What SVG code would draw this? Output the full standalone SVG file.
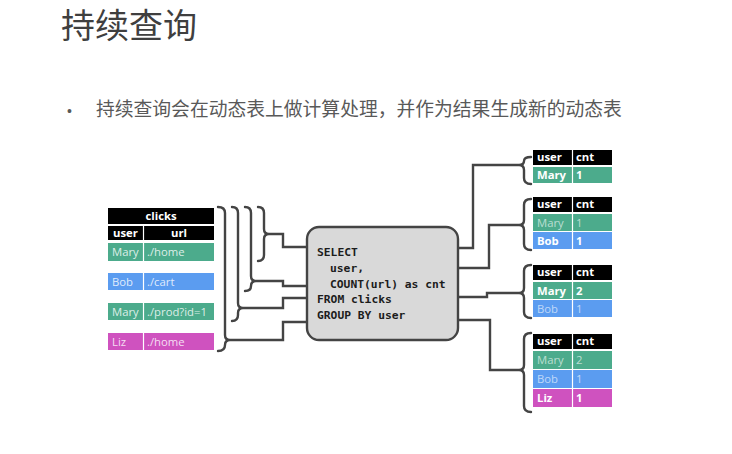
<svg xmlns="http://www.w3.org/2000/svg" width="732" height="454" viewBox="0 0 732 454">
  <style>
    .title { font-family: "Noto Sans CJK SC", "Noto Sans", sans-serif; font-size: 34px; fill: #3f3f3f; }
    .bullet { font-family: "Noto Sans CJK SC", "Noto Sans", sans-serif; font-size: 18.8px; fill: #595959; }
    .hdr { fill: #000; }
    .green { fill: #4cab8c; }
    .blue { fill: #5b9cf0; }
    .pink { fill: #cf52bf; }
    .cell { font-family: "Open Sans", "Liberation Sans", sans-serif; font-size: 11.3px; }
    .th { fill: #fff; font-weight: bold; }
    .new { fill: #fff; font-weight: bold; }
    .old { fill: #fff; fill-opacity: 0.62; }
    .src { fill: #fff; fill-opacity: 0.82; }
    .div { stroke: #fff; stroke-width: 1.2; }
    .sql { font-family: "DejaVu Sans Mono", "Liberation Mono", monospace; font-size: 11.3px; font-weight: bold; fill: #1c1c1c; }
    .wire { fill: none; stroke: #444; stroke-width: 2.4; stroke-linejoin: miter; }
    .brace { fill: none; stroke: #444; stroke-width: 2.4; stroke-linecap: round; }
  </style>

  <rect width="732" height="454" fill="#fff"/>

  <text class="title" x="61" y="38">持续查询</text>
  <text class="bullet" x="67" y="116" style="font-family: 'Liberation Sans', sans-serif; font-size: 14px;">•</text>
  <text class="bullet" x="96" y="116">持续查询会在动态表上做计算处理，并作为结果生成新的动态表</text>

  <!-- Input table: clicks -->
  <g id="clicks" class="cell">
    <rect class="hdr" x="108" y="208" width="106" height="16"/>
    <text class="th" x="161" y="220" text-anchor="middle">clicks</text>
    <rect class="hdr" x="108" y="226" width="106" height="14"/>
    <line class="div" x1="143.5" y1="226" x2="143.5" y2="240"/>
    <text class="th" x="125.5" y="237" text-anchor="middle">user</text>
    <text class="th" x="179" y="237" text-anchor="middle">url</text>

    <rect class="green" x="108" y="243" width="106" height="18"/>
    <line class="div" x1="143.5" y1="243" x2="143.5" y2="261"/>
    <text class="src" x="112" y="256">Mary</text>
    <text class="src" x="147" y="256">./home</text>

    <rect class="blue" x="108" y="273" width="106" height="17"/>
    <line class="div" x1="143.5" y1="273" x2="143.5" y2="290"/>
    <text class="src" x="112" y="286">Bob</text>
    <text class="src" x="147" y="286">./cart</text>

    <rect class="green" x="108" y="303" width="106" height="17"/>
    <line class="div" x1="143.5" y1="303" x2="143.5" y2="320"/>
    <text class="src" x="112" y="316">Mary</text>
    <text class="src" x="147" y="316">./prod?id=1</text>

    <rect class="pink" x="108" y="333" width="106" height="17"/>
    <line class="div" x1="143.5" y1="333" x2="143.5" y2="350"/>
    <text class="src" x="112" y="346">Liz</text>
    <text class="src" x="147" y="346">./home</text>
  </g>

  <!-- Query box -->
  <g id="query">
    <rect x="307" y="227" width="151" height="113" rx="12" ry="12" fill="#d9d9d9" stroke="#444" stroke-width="2.4"/>
    <text class="sql" x="317" y="256">SELECT</text>
    <text class="sql" x="330" y="272">user,</text>
    <text class="sql" x="330" y="288">COUNT(url) as cnt</text>
    <text class="sql" x="317" y="303">FROM clicks</text>
    <text class="sql" x="317" y="319">GROUP BY user</text>
  </g>

  <!-- Result tables -->
  <g id="result1" class="cell">
    <rect class="hdr" x="533" y="150" width="79" height="15"/>
    <line class="div" x1="572.5" y1="150" x2="572.5" y2="165"/>
    <text class="th" x="537" y="161">user</text>
    <text class="th" x="576" y="161">cnt</text>
    <rect class="green" x="533" y="167" width="79" height="16"/>
    <line class="div" x1="572.5" y1="167" x2="572.5" y2="183"/>
    <text class="new" x="537" y="179">Mary</text>
    <text class="new" x="576" y="179">1</text>
  </g>

  <g id="result2" class="cell">
    <rect class="hdr" x="533" y="197" width="79" height="15"/>
    <line class="div" x1="572.5" y1="197" x2="572.5" y2="212"/>
    <text class="th" x="537" y="208">user</text>
    <text class="th" x="576" y="208">cnt</text>
    <rect class="green" x="533" y="214" width="79" height="17"/>
    <line class="div" x1="572.5" y1="214" x2="572.5" y2="231"/>
    <text class="old" x="537" y="227">Mary</text>
    <text class="old" x="576" y="227">1</text>
    <rect class="blue" x="533" y="232" width="79" height="17"/>
    <line class="div" x1="572.5" y1="232" x2="572.5" y2="249"/>
    <text class="new" x="537" y="245">Bob</text>
    <text class="new" x="576" y="245">1</text>
  </g>

  <g id="result3" class="cell">
    <rect class="hdr" x="533" y="265" width="79" height="15"/>
    <line class="div" x1="572.5" y1="265" x2="572.5" y2="280"/>
    <text class="th" x="537" y="276">user</text>
    <text class="th" x="576" y="276">cnt</text>
    <rect class="green" x="533" y="282" width="79" height="17"/>
    <line class="div" x1="572.5" y1="282" x2="572.5" y2="299"/>
    <text class="new" x="537" y="295">Mary</text>
    <text class="new" x="576" y="295">2</text>
    <rect class="blue" x="533" y="300" width="79" height="17"/>
    <line class="div" x1="572.5" y1="300" x2="572.5" y2="317"/>
    <text class="old" x="537" y="313">Bob</text>
    <text class="old" x="576" y="313">1</text>
  </g>

  <g id="result4" class="cell">
    <rect class="hdr" x="533" y="334" width="79" height="15"/>
    <line class="div" x1="572.5" y1="334" x2="572.5" y2="349"/>
    <text class="th" x="537" y="345">user</text>
    <text class="th" x="576" y="345">cnt</text>
    <rect class="green" x="533" y="351" width="79" height="18"/>
    <line class="div" x1="572.5" y1="351" x2="572.5" y2="369"/>
    <text class="old" x="537" y="364">Mary</text>
    <text class="old" x="576" y="364">2</text>
    <rect class="blue" x="533" y="370" width="79" height="18"/>
    <line class="div" x1="572.5" y1="370" x2="572.5" y2="388"/>
    <text class="old" x="537" y="383">Bob</text>
    <text class="old" x="576" y="383">1</text>
    <rect class="pink" x="533" y="389" width="79" height="18"/>
    <line class="div" x1="572.5" y1="389" x2="572.5" y2="407"/>
    <text class="new" x="537" y="402">Liz</text>
    <text class="new" x="576" y="402">1</text>
  </g>

  <!-- Braces and wires -->
  <g id="connectors">
    <!-- input braces: each gathers the rows seen so far -->
    <path class="brace" d="M218,207 Q225,207 225,213 L225,335 Q225,340 230,340 Q225,340 225,345 Q225,351 218,351"/>
    <path class="brace" d="M232,207 Q238,207 238,213 L238,303 Q238,308 243,308 Q238,308 238,313 L238,315 Q238,321 232,321"/>
    <path class="brace" d="M245,207 Q251,207 251,213 L251,276 Q251,281 256,281 Q251,281 251,286 Q251,291 245,291"/>
    <path class="brace" d="M258,207 Q264,207 264,213 L264,229 Q264,234 269,234 Q264,234 264,239 L264,255 Q264,261 258,261"/>

    <path class="wire" d="M230,340 H283 V322 H307"/>
    <path class="wire" d="M243,308 H283 V298 H307"/>
    <path class="wire" d="M256,281 H283 V286 H307"/>
    <path class="wire" d="M269,234 H283 V247 H307"/>

    <!-- output wires -->
    <path class="wire" d="M458,248 H473 V165 H519"/>
    <path class="wire" d="M458,268 H489 V225 H519"/>
    <path class="wire" d="M458,297 H487 V293 H519"/>
    <path class="wire" d="M458,320 H490 V370 H519"/>

    <!-- output braces -->
    <path class="brace" d="M531,157 Q524,157 524,161 Q524,165 519,165 Q524,165 524,170 L524,178 Q524,184 531,184"/>
    <path class="brace" d="M531,199 Q524,199 524,205 L524,220 Q524,225 519,225 Q524,225 524,230 L524,244 Q524,250 531,250"/>
    <path class="brace" d="M531,265 Q524,265 524,271 L524,288 Q524,293 519,293 Q524,293 524,298 L524,312 Q524,318 531,318"/>
    <path class="brace" d="M531,333 Q524,333 524,339 L524,365 Q524,370 519,370 Q524,370 524,375 L524,406 Q524,412 531,412"/>
  </g>
</svg>
